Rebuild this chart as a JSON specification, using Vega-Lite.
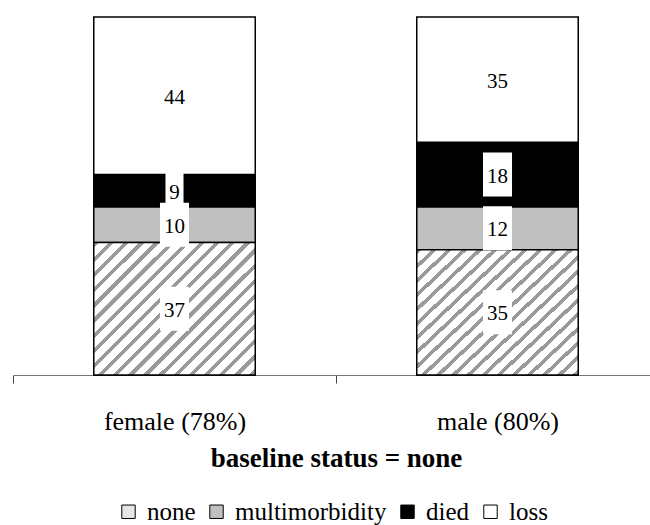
{
  "$schema": "https://vega.github.io/schema/vega-lite/v6.json",
  "autosize": "none",
  "width": 646,
  "height": 358,
  "padding": {"left": 13, "top": 17, "right": 0, "bottom": 150},
  "background": "white",
  "config": {
    "view": {"stroke": null},
    "font": "Liberation Serif"
  },
  "data": {
    "values": [
      {"sex": "female (78%)", "status": "none", "value": 37},
      {"sex": "female (78%)", "status": "multimorbidity", "value": 10},
      {"sex": "female (78%)", "status": "died", "value": 9},
      {"sex": "female (78%)", "status": "loss", "value": 44},
      {"sex": "male (80%)", "status": "none", "value": 35},
      {"sex": "male (80%)", "status": "multimorbidity", "value": 12},
      {"sex": "male (80%)", "status": "died", "value": 18},
      {"sex": "male (80%)", "status": "loss", "value": 35}
    ]
  },
  "transform": [
    {"calculate": "indexof(['none', 'multimorbidity', 'died', 'loss'], datum.status)", "as": "stack_order"}
  ],
  "encoding": {
    "x": {
      "field": "sex",
      "type": "nominal",
      "sort": null,
      "scale": {"paddingInner": 0.5, "paddingOuter": 0.25},
      "axis": {
        "title": "baseline status = none",
        "labelAngle": 0,
        "bandPosition": 0,
        "tickOffset": -80.75,
        "labelOffset": 80.75,
        "tickSize": 8,
        "tickColor": "#444444",
        "domainColor": "#777777",
        "domainWidth": 1,
        "labelFont": "Liberation Serif",
        "labelFontSize": 26,
        "labelColor": "black",
        "labelPadding": 25,
        "titleFont": "Liberation Serif",
        "titleFontSize": 27,
        "titleFontWeight": "bold",
        "titleColor": "black",
        "titlePadding": 11,
        "grid": false
      }
    },
    "color": {
      "field": "status",
      "type": "nominal",
      "scale": {
        "domain": ["none", "multimorbidity", "died", "loss"],
        "range": ["#e6e6e6", "#c0c0c0", "#000000", "#ffffff"]
      },
      "legend": {
        "title": null,
        "orient": "none",
        "legendX": 103,
        "legendY": 482,
        "direction": "horizontal",
        "symbolType": "square",
        "symbolSize": 180,
        "symbolStrokeColor": "black",
        "symbolStrokeWidth": 1,
        "symbolOpacity": 1,
        "labelFont": "Liberation Serif",
        "labelFontSize": 25,
        "labelColor": "black",
        "labelOffset": 6,
        "columnPadding": 8,
        "labelLimit": 300
      }
    },
    "order": {"field": "stack_order", "type": "quantitative", "sort": "ascending"}
  },
  "layer": [
    {
      "mark": {"type": "bar", "stroke": "black", "strokeWidth": 1.5, "opacity": 1},
      "encoding": {
        "y": {"field": "value", "type": "quantitative", "stack": "zero", "scale": {"domain": [0, 100], "nice": false}, "axis": null}
      }
    },
    {
      "transform": [{"filter": "datum.status == 'none'"}],
      "mark": {
        "type": "bar",
        "stroke": "black",
        "strokeWidth": 1.5,
        "opacity": 1,
        "fill": {"gradient": "linear", "x1": 0, "y1": 0, "x2": 1.12, "y2": 0.92, "stops": [
            {"offset": 0, "color": "#9a9a9a"}, {"offset": 0.0175, "color": "#9a9a9a"}, {"offset": 0.0175, "color": "#ffffff"}, {"offset": 0.05, "color": "#ffffff"},
            {"offset": 0.05, "color": "#9a9a9a"}, {"offset": 0.0675, "color": "#9a9a9a"}, {"offset": 0.0675, "color": "#ffffff"}, {"offset": 0.1, "color": "#ffffff"},
            {"offset": 0.1, "color": "#9a9a9a"}, {"offset": 0.1175, "color": "#9a9a9a"}, {"offset": 0.1175, "color": "#ffffff"}, {"offset": 0.15, "color": "#ffffff"},
            {"offset": 0.15, "color": "#9a9a9a"}, {"offset": 0.1675, "color": "#9a9a9a"}, {"offset": 0.1675, "color": "#ffffff"}, {"offset": 0.2, "color": "#ffffff"},
            {"offset": 0.2, "color": "#9a9a9a"}, {"offset": 0.2175, "color": "#9a9a9a"}, {"offset": 0.2175, "color": "#ffffff"}, {"offset": 0.25, "color": "#ffffff"},
            {"offset": 0.25, "color": "#9a9a9a"}, {"offset": 0.2675, "color": "#9a9a9a"}, {"offset": 0.2675, "color": "#ffffff"}, {"offset": 0.3, "color": "#ffffff"},
            {"offset": 0.3, "color": "#9a9a9a"}, {"offset": 0.3175, "color": "#9a9a9a"}, {"offset": 0.3175, "color": "#ffffff"}, {"offset": 0.35, "color": "#ffffff"},
            {"offset": 0.35, "color": "#9a9a9a"}, {"offset": 0.3675, "color": "#9a9a9a"}, {"offset": 0.3675, "color": "#ffffff"}, {"offset": 0.4, "color": "#ffffff"},
            {"offset": 0.4, "color": "#9a9a9a"}, {"offset": 0.4175, "color": "#9a9a9a"}, {"offset": 0.4175, "color": "#ffffff"}, {"offset": 0.45, "color": "#ffffff"},
            {"offset": 0.45, "color": "#9a9a9a"}, {"offset": 0.4675, "color": "#9a9a9a"}, {"offset": 0.4675, "color": "#ffffff"}, {"offset": 0.5, "color": "#ffffff"},
            {"offset": 0.5, "color": "#9a9a9a"}, {"offset": 0.5175, "color": "#9a9a9a"}, {"offset": 0.5175, "color": "#ffffff"}, {"offset": 0.55, "color": "#ffffff"},
            {"offset": 0.55, "color": "#9a9a9a"}, {"offset": 0.5675, "color": "#9a9a9a"}, {"offset": 0.5675, "color": "#ffffff"}, {"offset": 0.6, "color": "#ffffff"},
            {"offset": 0.6, "color": "#9a9a9a"}, {"offset": 0.6175, "color": "#9a9a9a"}, {"offset": 0.6175, "color": "#ffffff"}, {"offset": 0.65, "color": "#ffffff"},
            {"offset": 0.65, "color": "#9a9a9a"}, {"offset": 0.6675, "color": "#9a9a9a"}, {"offset": 0.6675, "color": "#ffffff"}, {"offset": 0.7, "color": "#ffffff"},
            {"offset": 0.7, "color": "#9a9a9a"}, {"offset": 0.7175, "color": "#9a9a9a"}, {"offset": 0.7175, "color": "#ffffff"}, {"offset": 0.75, "color": "#ffffff"},
            {"offset": 0.75, "color": "#9a9a9a"}, {"offset": 0.7675, "color": "#9a9a9a"}, {"offset": 0.7675, "color": "#ffffff"}, {"offset": 0.8, "color": "#ffffff"},
            {"offset": 0.8, "color": "#9a9a9a"}, {"offset": 0.8175, "color": "#9a9a9a"}, {"offset": 0.8175, "color": "#ffffff"}, {"offset": 0.85, "color": "#ffffff"},
            {"offset": 0.85, "color": "#9a9a9a"}, {"offset": 0.8675, "color": "#9a9a9a"}, {"offset": 0.8675, "color": "#ffffff"}, {"offset": 0.9, "color": "#ffffff"},
            {"offset": 0.9, "color": "#9a9a9a"}, {"offset": 0.9175, "color": "#9a9a9a"}, {"offset": 0.9175, "color": "#ffffff"}, {"offset": 0.95, "color": "#ffffff"},
            {"offset": 0.95, "color": "#9a9a9a"}, {"offset": 0.9675, "color": "#9a9a9a"}, {"offset": 0.9675, "color": "#ffffff"}, {"offset": 1, "color": "#ffffff"}
        ]}
      },
      "encoding": {
        "y": {"field": "value", "type": "quantitative"},
        "color": {"value": null}
      }
    },
    {
      "mark": {"type": "point", "filled": true, "opacity": 1, "strokeWidth": 0, "size": 1936},
      "encoding": {
        "y": {"field": "value", "type": "quantitative", "stack": "zero", "bandPosition": 0.5},
        "fill": {"value": "white"},
        "shape": {
          "condition": {"test": "datum.value < 10", "value": "M-0.41,-1H0.41V1H-0.41Z"},
          "value": "M-0.66,-1H0.66V1H-0.66Z"
        }
      }
    },
    {
      "mark": {"type": "text", "font": "Liberation Serif", "fontSize": 21, "baseline": "middle", "align": "center", "dy": 2},
      "encoding": {
        "y": {"field": "value", "type": "quantitative", "stack": "zero", "bandPosition": 0.5},
        "fill": {"value": "black"},
        "text": {"field": "value", "type": "quantitative"}
      }
    }
  ]
}
